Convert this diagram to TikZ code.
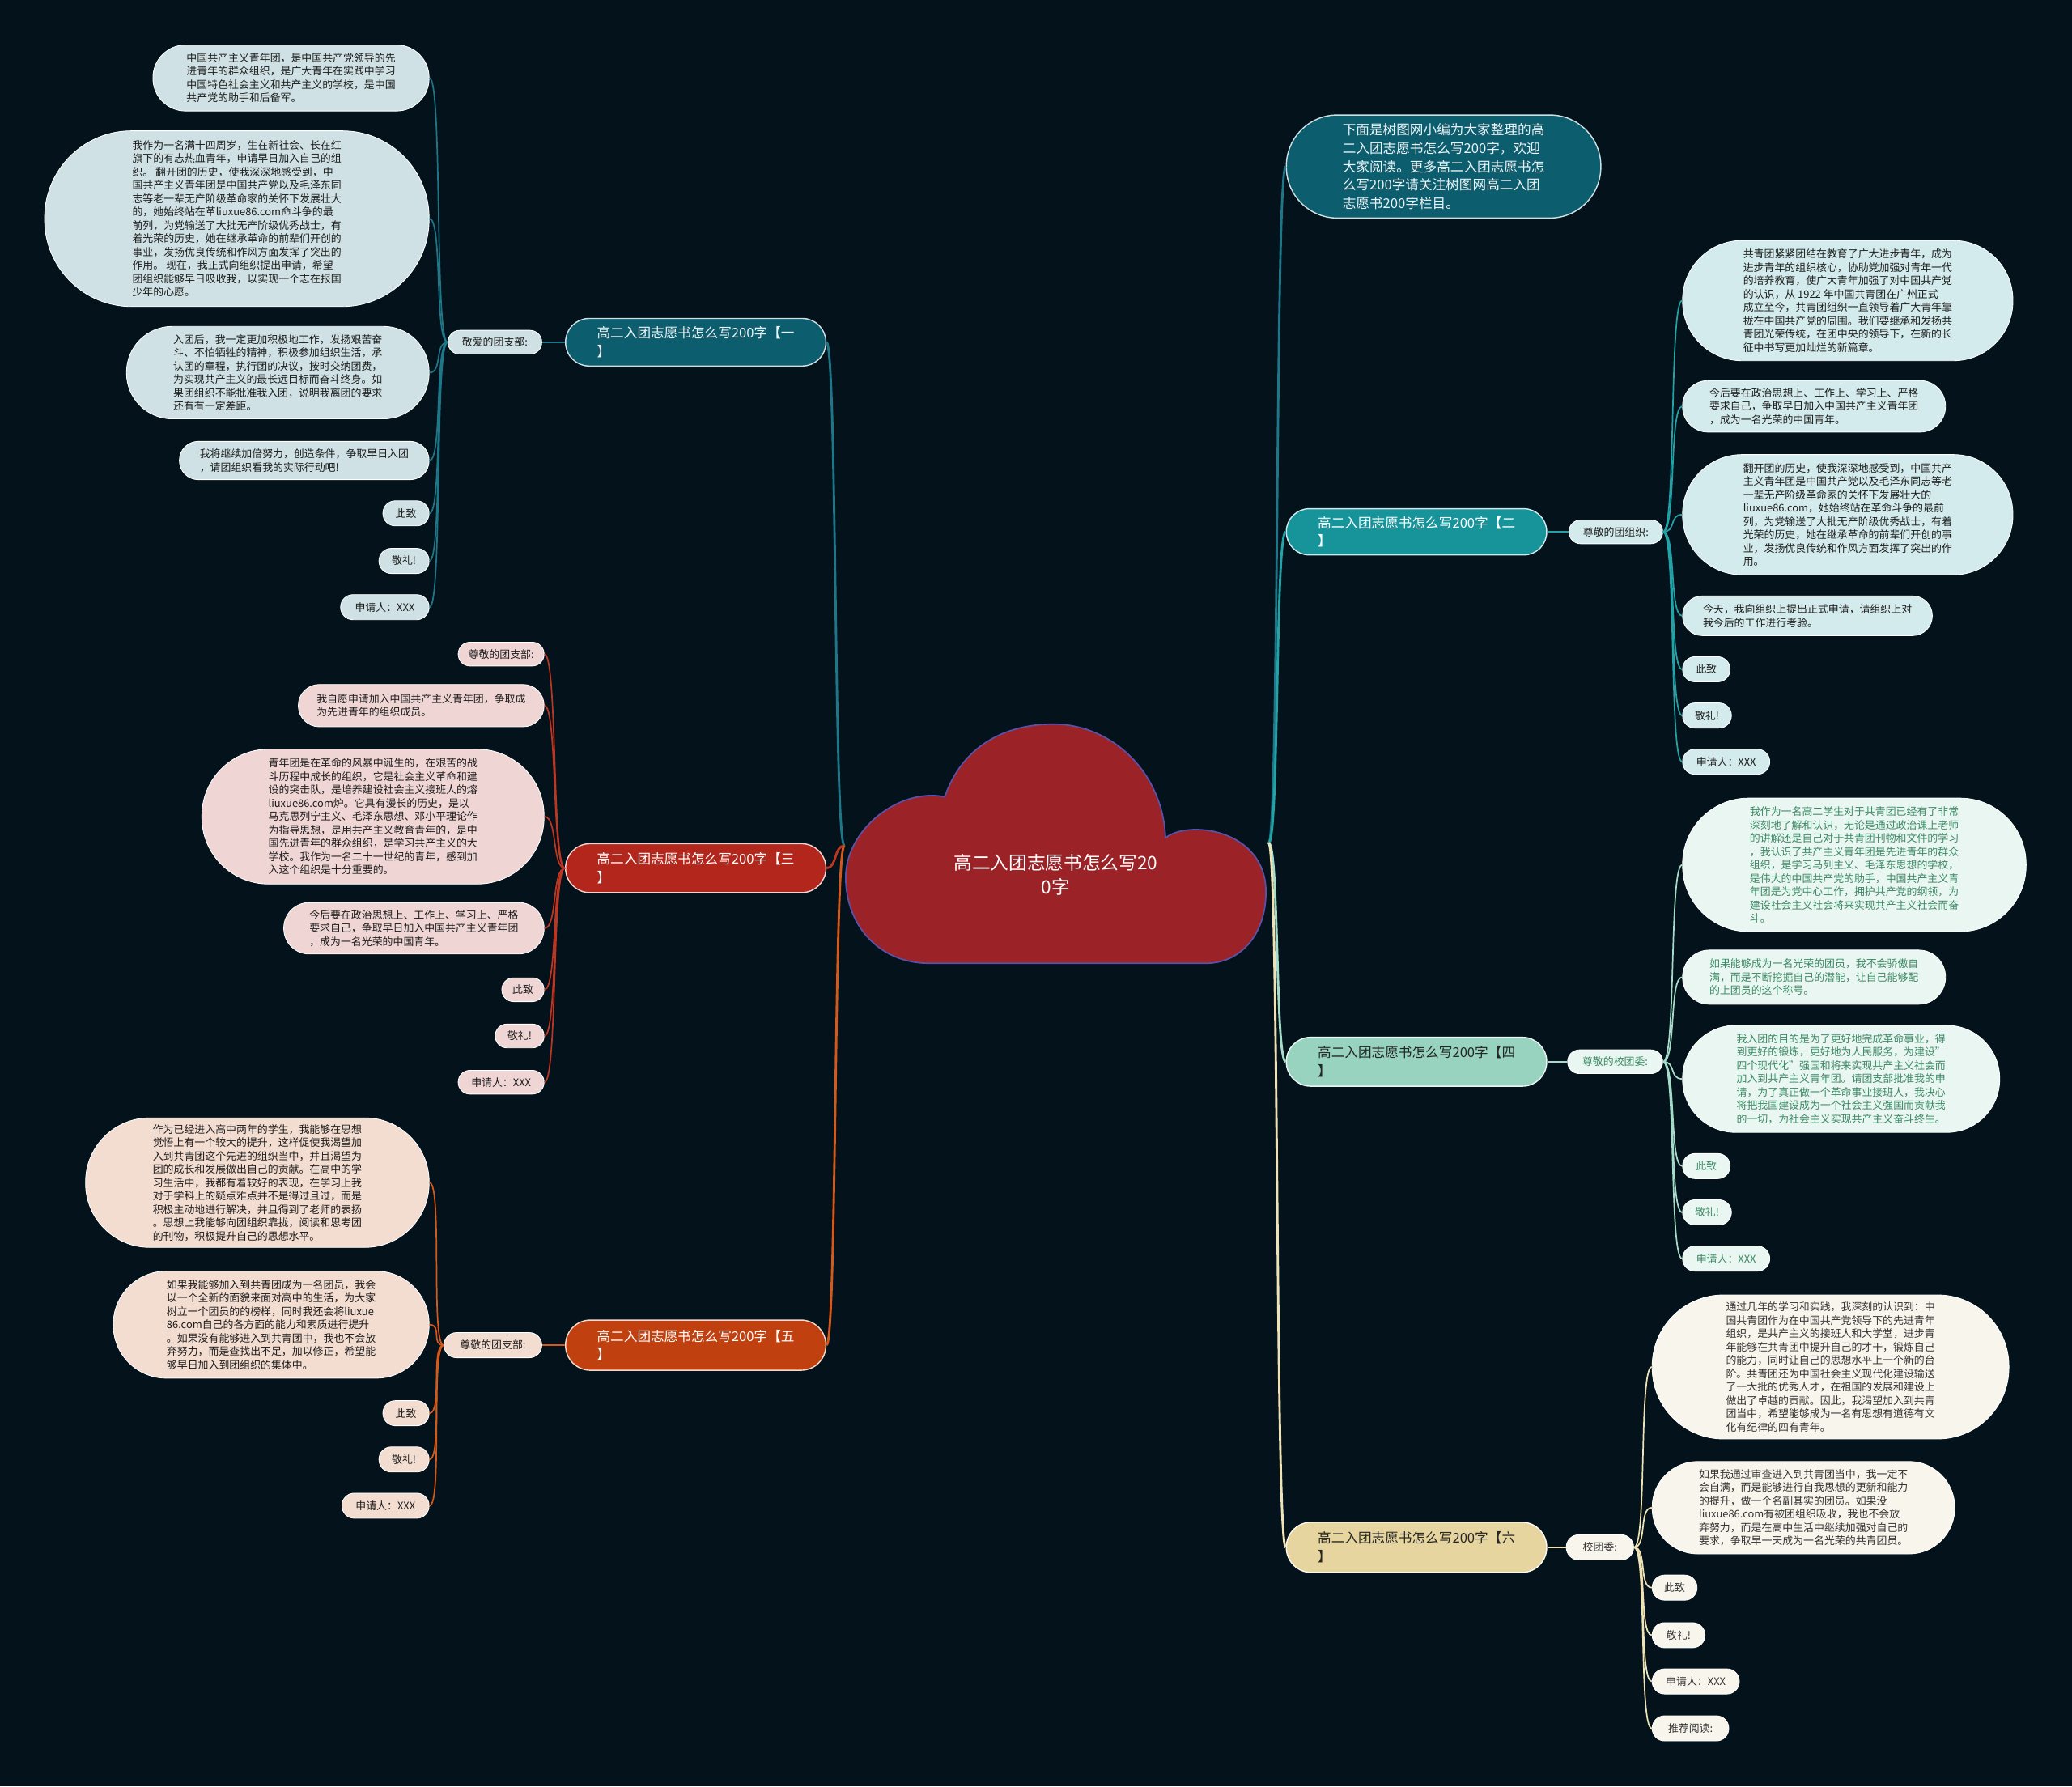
\documentclass[tikz,border=0pt]{standalone}
\usepackage{fontspec}
\setmainfont{Noto Sans CJK SC}

% palette
\definecolor{bgDark}{HTML}{04121B}
\definecolor{cloudRed}{HTML}{9B2328}
\definecolor{cloudRim}{HTML}{5A52A8}
\definecolor{inkDark}{HTML}{1E1E1E}
\definecolor{tealDeep}{HTML}{0C5D6E}
\definecolor{tealLine}{HTML}{1E7788}
\definecolor{tealPale}{HTML}{CFE1E5}
\definecolor{cyanMid}{HTML}{17939A}
\definecolor{cyanLine}{HTML}{22A3A8}
\definecolor{cyanPale}{HTML}{D3EBEC}
\definecolor{redMid}{HTML}{B3261B}
\definecolor{redLine}{HTML}{BC3621}
\definecolor{redPale}{HTML}{EFD5D3}
\definecolor{mintMid}{HTML}{97D3BF}
\definecolor{mintLine}{HTML}{A5DCC9}
\definecolor{mintPale}{HTML}{EAF6F1}
\definecolor{mintText}{HTML}{3B8A66}
\definecolor{oraMid}{HTML}{C0410F}
\definecolor{oraLine}{HTML}{D4591A}
\definecolor{oraPale}{HTML}{F3DCD0}
\definecolor{sandMid}{HTML}{E6D59F}
\definecolor{sandLine}{HTML}{EFE3B6}
\definecolor{sandPale}{HTML}{F8F5EC}

\newcommand\leaffont{\fontsize{4.5}{5.75}\selectfont}
\newcommand\branchfont{\fontsize{5.8}{7.9}\selectfont}
\newcommand\rootfont{\fontsize{7.9}{10.8}\selectfont}
\newcommand\sq{\char"0022\relax}

\begin{document}
\begin{tikzpicture}[
    x=0.2mm, y=-0.2mm,
    every node/.style={inner sep=0pt, align=left, text=inkDark, font=\leaffont},
    pill/.style 2 args={minimum width=#1*0.2mm, minimum height=#2*0.2mm,
                        rounded corners=#2*0.099mm},
    leafT/.style={fill=tealPale, draw=white, line width=0.3pt},
    leafC/.style={fill=cyanPale, draw=white, line width=0.3pt},
    leafR/.style={fill=redPale, draw=white, line width=0.3pt},
    leafM/.style={fill=mintPale, draw=white, line width=0.3pt, text=mintText},
    leafO/.style={fill=oraPale, draw=white, line width=0.3pt},
    leafS/.style={fill=sandPale, draw=white, line width=0.3pt, text=black!80},
    brT/.style={fill=tealDeep, draw=white!80!tealDeep, line width=0.5pt,
                text=white!92!tealDeep, font=\branchfont},
    brC/.style={fill=cyanMid, draw=white!80!cyanMid, line width=0.5pt,
                text=white, font=\branchfont},
    brR/.style={fill=redMid, draw=white!80!redMid, line width=0.5pt,
                text=white, font=\branchfont},
    brM/.style={fill=mintMid, draw=white!80!mintMid, line width=0.5pt,
                text=black!85, font=\branchfont},
    brO/.style={fill=oraMid, draw=white!80!oraMid, line width=0.5pt,
                text=white, font=\branchfont},
    brS/.style={fill=sandMid, draw=white!80!sandMid, line width=0.5pt,
                text=black!85, font=\branchfont},
    wire/.style={line width=0.6pt},
    trunk/.style={line width=1pt},
  ]

  % ------------------------------------------------------------------
  % canvas (fixes the bounding box too)
  % ------------------------------------------------------------------
  \fill[bgDark] (0,0) rectangle (1568,1352);

  % ------------------------------------------------------------------
  % central cloud
  % ------------------------------------------------------------------
  \filldraw[fill=cloudRed, draw=cloudRim, line width=0.6pt]
    (703,729) .. controls (665,729) and (640,700) .. (640,664)
    .. controls (640,628) and (680,596) .. (715,603)
    .. controls (728,565) and (760,548) .. (797,548)
    .. controls (842,548) and (880,585) .. (882,634)
    .. controls (900,620) and (958,628) .. (958,675)
    .. controls (958,708) and (938,729) .. (913,729)
    -- cycle;
  \node[font=\rootfont, text=white, align=center] (root) at (799,662)
       {高二入团志愿书怎么写20\\0字};
  \coordinate (cloudL) at (639,640);
  \coordinate (cloudR) at (960,638);

  % ------------------------------------------------------------------
  % branch 1 (teal, upper left)
  % ------------------------------------------------------------------
  \node[brT, pill={197}{36}] (b1) at (526.5,259) {高二入团志愿书怎么写200字【一\\】};
  \node[leafT, pill={71}{18}] (s1) at (374.5,259) {敬爱的团支部:};
  \node[leafT, pill={209}{50}, anchor=east] (l1a) at (325,59)
       {中国共产主义青年团，是中国共产党领导的先\\进青年的群众组织，是广大青年在实践中学习\\中国特色社会主义和共产主义的学校，是中国\\共产党的助手和后备军。};
  \node[leafT, pill={291}{133}, anchor=east] (l1b) at (325,165.5)
       {我作为一名满十四周岁，生在新社会、长在红\\旗下的有志热血青年，申请早日加入自己的组\\织。 翻开团的历史，使我深深地感受到，中\\国共产主义青年团是中国共产党以及毛泽东同\\志等老一辈无产阶级革命家的关怀下发展壮大\\的，她始终站在革liuxue86.com命斗争的最\\前列，为党输送了大批无产阶级优秀战士，有\\着光荣的历史，她在继承革命的前辈们开创的\\事业，发扬优良传统和作风方面发挥了突出的\\作用。 现在，我正式向组织提出申请，希望\\团组织能够早日吸收我，以实现一个志在报国\\少年的心愿。};
  \node[leafT, pill={229}{70}, anchor=east] (l1c) at (325,282)
       {入团后，我一定更加积极地工作，发扬艰苦奋\\斗、不怕牺牲的精神，积极参加组织生活，承\\认团的章程，执行团的决议，按时交纳团费，\\为实现共产主义的最长远目标而奋斗终身。如\\果团组织不能批准我入团，说明我离团的要求\\还有有一定差距。};
  \node[leafT, pill={189}{29}, anchor=east] (l1d) at (325,348.5)
       {我将继续加倍努力，创造条件，争取早日入团\\，请团组织看我的实际行动吧!};
  \node[leafT, pill={35}{19}, anchor=east] (l1e) at (325,388.5) {此致};
  \node[leafT, pill={38}{19}, anchor=east] (l1f) at (325,424.5) {敬礼!};
  \node[leafT, pill={67}{19}, anchor=east] (l1g) at (325,459.5) {申请人：XXX};

  \draw[trunk, tealLine] (cloudL) .. controls +(-8,0) and +(8,0) .. (b1.east);
  \draw[wire, tealLine] (b1.west) -- (s1.east);
  \foreach \lf in {l1a,l1b,l1c,l1d,l1e,l1f,l1g}
    \draw[wire, tealLine] (s1.west) .. controls +(-10,0) and +(10,0) .. (\lf.east);

  % ------------------------------------------------------------------
  % branch 3 (red, middle left) -- leaves hang straight off the branch
  % ------------------------------------------------------------------
  \node[brR, pill={197}{37}] (b3) at (526.5,657) {高二入团志愿书怎么写200字【三\\】};
  \node[leafR, pill={65}{18}, anchor=east] (l3a) at (412,495) {尊敬的团支部:};
  \node[leafR, pill={186}{32}, anchor=east] (l3b) at (412,534)
       {我自愿申请加入中国共产主义青年团，争取成\\为先进青年的组织成员。};
  \node[leafR, pill={259}{102}, anchor=east] (l3c) at (412,618)
       {青年团是在革命的风暴中诞生的，在艰苦的战\\斗历程中成长的组织，它是社会主义革命和建\\设的突击队，是培养建设社会主义接班人的熔\\liuxue86.com炉。它具有漫长的历史，是以\\马克思列宁主义、毛泽东思想、邓小平理论作\\为指导思想，是用共产主义教育青年的，是中\\国先进青年的群众组织，是学习共产主义的大\\学校。我作为一名二十一世纪的青年，感到加\\入这个组织是十分重要的。};
  \node[leafR, pill={197}{39}, anchor=east] (l3d) at (412,702.5)
       {今后要在政治思想上、工作上、学习上、严格\\要求自己，争取早日加入中国共产主义青年团\\，成为一名光荣的中国青年。};
  \node[leafR, pill={32}{18}, anchor=east] (l3e) at (412,749) {此致};
  \node[leafR, pill={37}{18}, anchor=east] (l3f) at (412,784) {敬礼!};
  \node[leafR, pill={65}{18}, anchor=east] (l3g) at (412,819) {申请人：XXX};

  \draw[trunk, redLine] (cloudL) .. controls +(-8,0) and +(8,0) .. (b3.east);
  \foreach \lf in {l3a,l3b,l3c,l3d,l3e,l3f,l3g}
    \draw[wire, redLine] (b3.west) .. controls +(-10,0) and +(10,0) .. (\lf.east);

  % ------------------------------------------------------------------
  % branch 5 (orange, lower left)
  % ------------------------------------------------------------------
  \node[brO, pill={197}{38}] (b5) at (526.5,1018) {高二入团志愿书怎么写200字【五\\】};
  \node[leafO, pill={74}{19}] (s5) at (373,1018) {尊敬的团支部:};
  \node[leafO, pill={260}{98}, anchor=east] (l5a) at (325,895)
       {作为已经进入高中两年的学生，我能够在思想\\觉悟上有一个较大的提升，这样促使我渴望加\\入到共青团这个先进的组织当中，并且渴望为\\团的成长和发展做出自己的贡献。在高中的学\\习生活中，我都有着较好的表现，在学习上我\\对于学科上的疑点难点并不是得过且过，而是\\积极主动地进行解决，并且得到了老师的表扬\\。思想上我能够向团组织靠拢，阅读和思考团\\的刊物，积极提升自己的思想水平。};
  \node[leafO, pill={239}{81}, anchor=east] (l5b) at (325,1002.5)
       {如果我能够加入到共青团成为一名团员，我会\\以一个全新的面貌来面对高中的生活，为大家\\树立一个团员的的榜样，同时我还会将liuxue\\86.com自己的各方面的能力和素质进行提升\\。如果没有能够进入到共青团中，我也不会放\\弃努力，而是查找出不足，加以修正，希望能\\够早日加入到团组织的集体中。};
  \node[leafO, pill={35}{19}, anchor=east] (l5c) at (325,1069.5) {此致};
  \node[leafO, pill={38}{19}, anchor=east] (l5d) at (325,1104.5) {敬礼!};
  \node[leafO, pill={66}{19}, anchor=east] (l5e) at (325,1139.5) {申请人：XXX};

  \draw[trunk, oraLine] (cloudL) .. controls +(-8,0) and +(8,0) .. (b5.east);
  \draw[wire, oraLine] (b5.west) -- (s5.east);
  \foreach \lf in {l5a,l5b,l5c,l5d,l5e}
    \draw[wire, oraLine] (s5.west) .. controls +(-10,0) and +(10,0) .. (\lf.east);

  % ------------------------------------------------------------------
  % intro bubble (top right)
  % ------------------------------------------------------------------
  \node[brT, pill={238}{78}, anchor=west] (intro) at (973,126)
       {下面是树图网小编为大家整理的高\\二入团志愿书怎么写200字，欢迎\\大家阅读。更多高二入团志愿书怎\\么写200字请关注树图网高二入团\\志愿书200字栏目。};
  \draw[trunk, tealLine] (cloudR) .. controls +(8,0) and +(-8,0) .. (intro.west);

  % ------------------------------------------------------------------
  % branch 2 (cyan, upper right)
  % ------------------------------------------------------------------
  \node[brC, pill={197}{35}, anchor=west] (b2) at (973,402.5) {高二入团志愿书怎么写200字【二\\】};
  \node[leafC, pill={71}{18}, anchor=west] (s2) at (1187,402.5) {尊敬的团组织:};
  \node[leafC, pill={250}{91}, anchor=west] (l2a) at (1273,227.5)
       {共青团紧紧团结在教育了广大进步青年，成为\\进步青年的组织核心，协助党加强对青年一代\\的培养教育，使广大青年加强了对中国共产党\\的认识，从 1922 年中国共青团在广州正式\\成立至今，共青团组织一直领导着广大青年靠\\拢在中国共产党的周围。我们要继承和发扬共\\青团光荣传统，在团中央的领导下，在新的长\\征中书写更加灿烂的新篇章。};
  \node[leafC, pill={199}{39}, anchor=west] (l2b) at (1273,307.5)
       {今后要在政治思想上、工作上、学习上、严格\\要求自己，争取早日加入中国共产主义青年团\\，成为一名光荣的中国青年。};
  \node[leafC, pill={250}{91}, anchor=west] (l2c) at (1273,389.5)
       {翻开团的历史，使我深深地感受到，中国共产\\主义青年团是中国共产党以及毛泽东同志等老\\一辈无产阶级革命家的关怀下发展壮大的\\liuxue86.com，她始终站在革命斗争的最前\\列，为党输送了大批无产阶级优秀战士，有着\\光荣的历史，她在继承革命的前辈们开创的事\\业，发扬优良传统和作风方面发挥了突出的作\\用。};
  \node[leafC, pill={189}{30}, anchor=west] (l2d) at (1273,466)
       {今天，我向组织上提出正式申请，请组织上对\\我今后的工作进行考验。};
  \node[leafC, pill={36}{19}, anchor=west] (l2e) at (1273,506.5) {此致};
  \node[leafC, pill={37}{19}, anchor=west] (l2f) at (1273,541.5) {敬礼!};
  \node[leafC, pill={66}{19}, anchor=west] (l2g) at (1273,576.5) {申请人：XXX};

  \draw[trunk, cyanLine] (cloudR) .. controls +(8,0) and +(-8,0) .. (b2.west);
  \draw[wire, cyanLine] (b2.east) -- (s2.west);
  \foreach \lf in {l2a,l2b,l2c,l2d,l2e,l2f,l2g}
    \draw[wire, cyanLine] (s2.east) .. controls +(10,0) and +(-10,0) .. (\lf.west);

  % ------------------------------------------------------------------
  % branch 4 (mint, middle right)
  % ------------------------------------------------------------------
  \node[brM, pill={197}{37}, anchor=west] (b4) at (973,803.5) {高二入团志愿书怎么写200字【四\\】};
  \node[leafM, pill={72}{18}, anchor=west] (s4) at (1186,803.5) {尊敬的校团委:};
  \node[leafM, pill={260}{101}, anchor=west] (l4a) at (1273,654.5)
       {我作为一名高二学生对于共青团已经有了非常\\深刻地了解和认识，无论是通过政治课上老师\\的讲解还是自己对于共青团刊物和文件的学习\\，我认识了共产主义青年团是先进青年的群众\\组织，是学习马列主义、毛泽东思想的学校，\\是伟大的中国共产党的助手，中国共产主义青\\年团是为党中心工作，拥护共产党的纲领，为\\建设社会主义社会将来实现共产主义社会而奋\\斗。};
  \node[leafM, pill={199}{41}, anchor=west] (l4b) at (1273,739.5)
       {如果能够成为一名光荣的团员，我不会骄傲自\\满，而是不断挖掘自己的潜能，让自己能够配\\的上团员的这个称号。};
  \node[leafM, pill={240}{81}, anchor=west] (l4c) at (1273,816.5)
       {我入团的目的是为了更好地完成革命事业，得\\到更好的锻炼，更好地为人民服务，为建设\sq\\四个现代化\sq 强国和将来实现共产主义社会而\\加入到共产主义青年团。请团支部批准我的申\\请，为了真正做一个革命事业接班人，我决心\\将把我国建设成为一个社会主义强国而贡献我\\的一切，为社会主义实现共产主义奋斗终生。};
  \node[leafM, pill={36}{19}, anchor=west] (l4d) at (1273,882.5) {此致};
  \node[leafM, pill={37}{19}, anchor=west] (l4e) at (1273,917.5) {敬礼!};
  \node[leafM, pill={66}{19}, anchor=west] (l4f) at (1273,952.5) {申请人：XXX};

  \draw[trunk, mintLine] (cloudR) .. controls +(8,0) and +(-8,0) .. (b4.west);
  \draw[wire, mintLine] (b4.east) -- (s4.west);
  \foreach \lf in {l4a,l4b,l4c,l4d,l4e,l4f}
    \draw[wire, mintLine] (s4.east) .. controls +(10,0) and +(-10,0) .. (\lf.west);

  % ------------------------------------------------------------------
  % branch 6 (sand, lower right)
  % ------------------------------------------------------------------
  \node[brS, pill={197}{38}, anchor=west] (b6) at (973,1171) {高二入团志愿书怎么写200字【六\\】};
  \node[leafS, pill={51}{19}, anchor=west] (s6) at (1185,1171) {校团委:};
  \node[leafS, pill={270}{109}, anchor=west] (l6a) at (1250,1034.5)
       {通过几年的学习和实践，我深刻的认识到：中\\国共青团作为在中国共产党领导下的先进青年\\组织，是共产主义的接班人和大学堂，进步青\\年能够在共青团中提升自己的才干，锻炼自己\\的能力，同时让自己的思想水平上一个新的台\\阶。共青团还为中国社会主义现代化建设输送\\了一大批的优秀人才，在祖国的发展和建设上\\做出了卓越的贡献。因此，我渴望加入到共青\\团当中，希望能够成为一名有思想有道德有文\\化有纪律的四有青年。};
  \node[leafS, pill={229}{70}, anchor=west] (l6b) at (1250,1141)
       {如果我通过审查进入到共青团当中，我一定不\\会自满，而是能够进行自我思想的更新和能力\\的提升，做一个名副其实的团员。如果没\\liuxue86.com有被团组织吸收，我也不会放\\弃努力，而是在高中生活中继续加强对自己的\\要求，争取早一天成为一名光荣的共青团员。};
  \node[leafS, pill={34}{19}, anchor=west] (l6c) at (1250,1201.5) {此致};
  \node[leafS, pill={40}{19}, anchor=west] (l6d) at (1250,1237.5) {敬礼!};
  \node[leafS, pill={66}{19}, anchor=west] (l6e) at (1250,1272.5) {申请人：XXX};
  \node[leafS, pill={58}{19}, anchor=west] (l6f) at (1250,1308) {推荐阅读:};

  \draw[trunk, sandLine] (cloudR) .. controls +(8,0) and +(-8,0) .. (b6.west);
  \draw[wire, sandLine] (b6.east) -- (s6.west);
  \foreach \lf in {l6a,l6b,l6c,l6d,l6e,l6f}
    \draw[wire, sandLine] (s6.east) .. controls +(10,0) and +(-10,0) .. (\lf.west);

\end{tikzpicture}
\end{document}
